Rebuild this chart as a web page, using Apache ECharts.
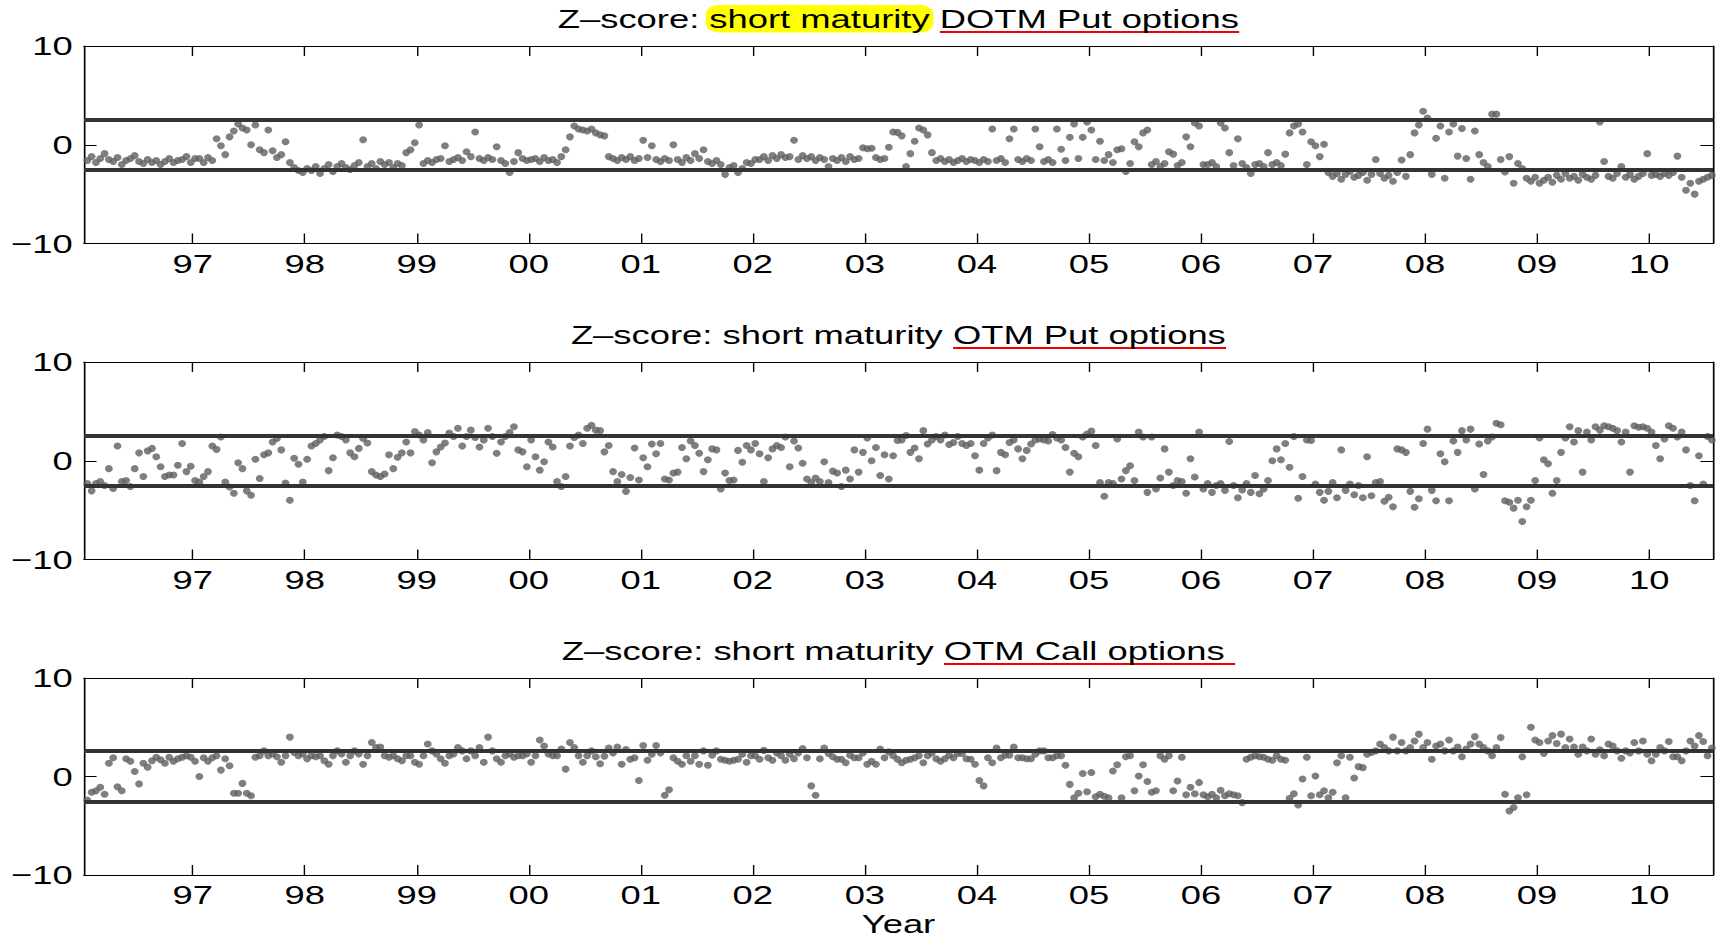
<!DOCTYPE html>
<html lang="en">
<head>
<meta charset="UTF-8">
<title>Z-score: short maturity options</title>
<script src="https://cdn.jsdelivr.net/npm/echarts@6/dist/echarts.min.js"></script>
<style>
  * { margin: 0; padding: 0; }
  body { background: #fff; width: 1720px; height: 938px; overflow: hidden; }
  /* the source figure is stretched sideways, so draw it narrow and widen it */
  #chart { width: 1229px; height: 938px; transform: scaleX(1.3995); transform-origin: 0 0; }
</style>
</head>
<body>
<div id="chart"></div>
<script>
  // biweekly observations, first one at year + 0.06
  const firstYear = 1996;
  const obsOffset = 0.06;
  const obsPerYear = 26;
  const zCrit = 2.58;
  const tickYears = [1997, 1998, 1999, 2000, 2001, 2002, 2003, 2004, 2005, 2006, 2007, 2008, 2009, 2010];

  // one row per year (1996 ... 2010)
  const dotmPut = [
    [-1.6,-1.2,-1.8,-1.4,-0.9,-1.5,-1.7,-1.3,-2.0,-1.6,-1.4,-1.1,-1.7,-1.9,-1.5,-1.8,-1.6,-2.0,-1.7,-1.4,-1.8,-1.6,-1.5,-1.2,-1.8,-1.4],
    [-1.4,-1.8,-1.3,-1.6,0.6,-0.1,-1.0,0.8,1.4,2.1,1.7,1.5,0.0,2.0,-0.5,-0.8,1.5,-0.6,-1.3,-1.0,0.3,-1.8,-2.3,-2.6,-2.8,-2.4],
    [-2.6,-2.2,-2.9,-2.4,-2.0,-2.7,-2.2,-1.9,-2.3,-2.5,-2.1,-1.8,0.5,-2.2,-1.9,-2.4,-1.7,-2.0,-1.8,-2.3,-1.9,-2.1,-0.8,-0.5,0.2,2.0],
    [-1.9,-1.6,-1.8,-1.5,-1.4,-0.1,-1.7,-1.5,-1.3,-1.6,-0.7,-1.2,1.3,-1.4,-1.6,-1.3,-1.5,-0.2,-1.6,-1.9,-2.8,-1.7,-0.8,-1.4,-1.6,-1.5],
    [-1.4,-1.7,-1.3,-1.6,-1.5,-1.8,-1.2,-0.5,0.8,1.9,1.6,1.5,1.4,1.6,1.2,1.0,0.9,-1.2,-1.4,-1.6,-1.3,-1.5,-1.2,-1.6,-1.4,0.45],
    [-1.3,-0.1,-1.5,-1.7,-1.4,-1.6,0.0,-1.5,-1.8,-1.3,-1.6,-0.9,-1.4,-0.5,-1.7,-1.9,-1.6,-2.0,-3.0,-2.3,-2.1,-2.8,-2.4,-1.8,-1.9,-1.5],
    [-1.5,-1.2,-1.6,-1.1,-1.4,-1.0,-1.3,-1.2,0.45,-1.5,-1.1,-1.4,-1.2,-1.6,-1.3,-1.5,-2.2,-1.4,-1.6,-1.3,-1.7,-1.2,-1.5,-1.4,-0.3,-0.4],
    [-0.35,-1.3,-1.5,-1.4,-0.25,1.3,1.25,0.9,-2.2,-0.9,0.35,1.7,1.5,1.0,-0.8,-1.6,-1.4,-1.7,-1.5,-1.8,-1.6,-1.4,-1.7,-1.5,-1.6,-1.8],
    [-1.5,-1.7,1.6,-1.6,-1.4,-1.8,0.6,1.6,-1.5,-1.7,-1.4,-1.6,1.6,-0.2,-1.7,-1.5,-1.8,1.6,-0.45,-1.6,0.75,2.1,-1.4,0.75,2.3,1.5],
    [-1.5,0.35,-1.6,-1.0,-1.8,-0.5,-0.4,-2.7,-1.9,0.3,-0.2,1.2,1.5,-2.0,-1.7,-2.2,-1.9,-0.7,-0.95,-2.1,-1.8,0.8,-0.2,2.2,1.9,-2.0],
    [-2.0,-1.8,-2.2,2.2,1.7,-0.8,-2.1,0.6,-1.9,-2.3,-2.9,-2.0,-1.9,-2.2,-0.8,-2.0,-1.8,-2.1,-0.95,1.2,1.9,2.1,1.3,-2.0,0.3,-0.1],
    [-1.2,0.05,-2.8,-3.2,-2.9,-3.5,-3.0,-2.7,-3.3,-3.1,-2.8,-3.6,-3.0,-1.5,-2.9,-3.4,-3.1,-3.7,-2.8,-1.55,-3.2,-1.0,1.2,2.0,3.4,2.7],
    [-3.0,0.65,1.9,-3.4,1.3,2.1,-1.15,1.65,-1.4,-3.5,1.4,-1.0,-1.8,-2.2,3.1,3.1,-1.5,-2.75,-1.2,-3.9,-1.9,-2.4,-3.4,-3.7,-3.3,-3.9],
    [-3.6,-3.3,-3.8,-3.1,-3.5,-2.9,-3.4,-3.2,-3.6,-3.0,-3.3,-3.5,-3.1,2.3,-1.7,-3.2,-3.4,-2.9,-2.2,-3.3,-3.0,-3.5,-3.2,-2.9,-0.9,-3.1],
    [-3.0,-3.2,-2.9,-3.1,-2.8,-1.15,-3.3,-4.6,-3.9,-5.0,-3.7,-3.5,-3.3,-3.1]
  ];

  const otmPut = [
    [-2.3,-3.05,-2.3,-2.1,-2.5,-0.8,-2.8,1.5,-2.1,-2.0,-2.6,-0.8,0.8,-1.6,1.0,1.25,0.4,-0.6,-1.6,-1.45,-1.45,-0.45,1.75,-1.1,-0.55,-2.0],
    [-2.15,-1.6,-1.1,1.5,1.15,2.4,-2.15,-2.65,-3.3,-0.2,-0.8,-3.05,-3.5,0.15,-1.8,0.6,0.8,1.9,2.25,1.1,-2.25,-4.0,0.25,-0.35,-2.15,0.15],
    [1.5,1.75,2.1,2.45,-1.0,0.3,2.6,2.45,2.1,0.8,0.4,1.25,2.25,1.8,-1.1,-1.45,-1.6,-1.35,0.6,-0.8,0.35,0.8,1.9,0.8,2.95,2.6],
    [2.1,2.85,-0.2,0.9,1.4,1.8,2.8,2.45,3.3,1.5,2.45,3.1,2.35,1.4,2.1,3.3,2.45,0.75,1.9,2.45,2.85,3.45,1.1,0.9,-0.6,2.1],
    [0.4,-0.95,-0.1,1.9,1.4,-2.1,-2.6,-1.6,1.5,2.35,2.6,1.75,3.3,3.6,3.1,3.05,0.9,1.55,-1.1,-2.1,-1.4,-3.1,-1.7,1.3,-1.95,0.3],
    [-0.6,1.7,0.7,1.75,-1.85,-1.95,-1.25,-1.15,1.35,0.2,2.0,1.55,0.75,-1.1,0.1,1.2,1.1,-2.85,-1.25,-2.0,-1.95,1.05,-0.15,1.55,1.1,1.75],
    [0.7,-2.1,0.3,1.2,1.55,1.35,2.4,-0.6,2.0,1.3,-0.25,-1.85,-2.2,-1.75,-2.1,-0.1,-2.2,-1.05,-1.25,-2.6,-0.95,-1.85,1.1,-1.15,0.85,2.3],
    [0.0,1.35,-1.5,0.6,-1.85,0.5,2.05,2.1,2.55,0.85,1.3,0.2,3.05,1.7,2.1,2.45,2.1,2.6,1.65,1.85,2.45,1.75,1.55,1.75,0.5,-0.95],
    [1.75,2.3,2.6,-1.0,0.85,0.6,1.85,2.1,1.2,0.2,1.05,1.7,2.1,2.2,2.1,2.0,2.65,2.3,2.1,1.35,-1.15,0.75,0.4,2.4,2.7,3.0],
    [1.55,-2.2,-3.6,-2.2,-2.3,2.2,-1.85,-1.0,-0.5,-2.0,2.9,2.4,-3.2,2.4,-2.85,-1.75,1.2,-1.15,-2.5,-2.0,-2.1,-3.3,0.2,-1.65,2.9,-2.85],
    [-2.3,-3.2,-2.5,-2.3,-3.0,1.95,-2.5,-3.75,-2.95,-2.3,-3.2,-1.5,-3.35,-2.85,-2.0,0.0,1.2,0.1,1.75,-0.65,2.45,-3.8,-1.6,2.1,2.05,-2.35],
    [-3.2,-4.0,-3.1,-2.2,-3.75,1.1,-3.0,-2.35,-3.45,-2.5,-3.75,0.4,-3.55,-2.2,-2.1,-4.1,-3.7,-4.65,1.2,1.1,0.85,-3.1,-4.7,-3.85,1.75,3.2],
    [-3.0,-4.05,0.7,-0.1,-4.05,2.0,0.85,3.05,2.1,3.2,-2.85,1.7,-1.4,2.0,2.4,3.8,3.65,-4.05,-4.2,-4.8,-4.0,-6.15,-4.65,-4.0,-2.0,2.3],
    [0.1,-0.3,-3.3,-2.0,0.85,2.3,3.45,1.9,3.05,-1.15,2.9,2.1,3.45,3.1,3.55,3.45,3.3,3.05,1.9,2.9,-1.15,3.55,3.4,3.45,3.3,2.9],
    [1.55,0.2,2.2,3.55,3.3,2.4,2.9,1.1,-2.5,-4.05,0.5,-2.35,2.45,2.1]
  ];

  const otmCall = [
    [-2.4,-1.6,-1.45,-1.1,-1.8,1.35,1.9,-1.05,-1.45,1.8,1.55,0.5,-0.75,1.35,0.95,1.6,1.95,1.7,1.35,1.95,1.55,1.8,1.95,2.1,1.95,1.55],
    [0.0,1.9,1.55,1.9,2.1,0.65,1.8,1.1,-1.7,-1.7,-0.7,-1.7,-1.95,1.95,2.1,2.6,2.1,2.3,2.0,1.45,2.1,4.0,2.45,2.1,2.3,1.8],
    [2.1,2.0,2.1,1.6,1.25,2.1,2.6,2.3,1.45,2.1,2.6,2.3,1.25,2.1,3.45,2.95,3.0,2.1,1.95,2.1,1.8,1.6,2.1,2.1,1.45,1.25],
    [2.1,3.3,2.6,2.3,1.8,1.35,2.1,2.3,2.95,2.6,1.8,2.6,2.1,2.95,1.45,4.0,2.6,1.8,1.45,2.1,2.3,1.95,2.1,2.1,2.3,1.45],
    [2.1,3.7,3.1,2.3,2.1,2.1,2.8,0.75,3.45,2.95,2.1,1.45,2.1,2.6,2.0,1.3,2.05,2.9,2.4,3.0,1.25,2.75,1.75,1.9,-0.4,3.15],
    [1.65,2.25,3.15,2.4,-1.9,-1.35,1.9,1.55,1.25,2.1,1.55,2.1,1.25,2.6,1.15,2.15,2.6,1.75,1.65,1.55,1.65,1.75,2.25,1.45,2.1,2.1],
    [1.75,2.65,1.9,1.65,2.4,2.1,1.65,2.25,1.8,2.4,2.85,1.9,-0.95,-1.9,1.8,2.9,2.35,2.0,1.75,1.75,1.4,2.15,1.9,1.9,2.4,1.25],
    [1.55,1.25,2.8,1.9,2.5,2.1,1.75,1.4,1.65,1.75,1.9,2.1,1.4,2.1,2.4,1.8,1.55,1.8,2.15,1.9,2.35,2.35,1.8,1.75,1.25,-0.4],
    [-0.95,1.9,1.4,2.9,1.9,2.15,2.15,3.0,1.9,1.9,1.8,1.8,2.25,2.6,2.6,1.9,1.9,2.1,2.1,1.15,-0.8,-2.15,-1.7,0.3,-1.55,0.4],
    [-2.05,-1.8,-2.0,-2.15,0.55,1.2,-2.15,2.0,2.1,-1.45,0.05,1.2,-0.5,-1.6,-1.45,2.1,1.75,2.1,-1.45,-0.45,1.95,-1.85,-1.1,-1.75,-0.6,-1.85],
    [-2.05,-1.8,-2.15,-1.4,-1.95,-1.75,-1.85,-1.95,-2.65,1.75,1.95,2.1,2.0,1.95,1.75,1.65,2.1,1.75,1.65,-2.2,-1.75,-2.9,-0.25,1.95,-1.95,0.05],
    [-1.85,-1.45,-2.15,-1.6,1.4,2.1,-2.15,1.95,-0.15,1.0,0.9,2.25,2.45,2.6,3.3,2.95,2.6,4.0,2.6,3.45,2.6,2.95,3.6,4.3,2.95,3.45],
    [1.75,3.1,3.3,2.6,3.7,2.6,3.0,2.0,2.8,3.3,4.05,3.3,2.95,2.6,2.1,2.95,3.95,-1.8,-3.5,-3.15,-2.15,2.0,-1.85,5.0,3.7,3.45],
    [2.35,3.6,4.15,3.35,4.3,2.95,3.8,3.0,2.25,3.0,2.6,3.8,2.25,2.7,2.1,3.3,3.1,2.6,1.85,2.6,2.4,3.45,2.6,3.6,2.25,1.6],
    [2.25,2.95,2.6,3.55,2.0,2.0,1.6,2.6,3.6,3.1,4.15,3.55,2.1,2.9]
  ];

  // title pieces: mark = yellow highlight, line = red underline
  const titles = [
    [{ t: 'Z\u2013score: ' }, { t: 'short maturity', mark: true }, { t: ' ' }, { t: 'DOTM Put options', line: true }],
    [{ t: 'Z\u2013score: short maturity ' }, { t: 'OTM Put options', line: true }],
    [{ t: 'Z\u2013score: short maturity ' }, { t: 'OTM Call options ', line: true }]
  ];

  const FONT = '"Liberation Sans", Arial, sans-serif';
  const gridLeft = 60, gridRight = 5;
  const gridTops = [46, 362, 678];
  const gridH = 197.5;
  const chartW = 1229;

  function toPoints(rows) {
    const pts = [];
    rows.forEach((row, k) => {
      row.forEach((v, j) => pts.push([firstYear + k + obsOffset + j / obsPerYear, v]));
    });
    return pts;
  }

  var ctx = document.createElement('canvas').getContext('2d');
  ctx.font = '26px ' + FONT;
  function textW(s) { return ctx.measureText(s).width; }

  var grids = [], xAxes = [], yAxes = [], series = [], graphics = [];
  var panelData = [dotmPut, otmPut, otmCall];
  var cx = gridLeft + (chartW - gridLeft - gridRight) / 2;

  panelData.forEach((rows, k) => {
    grids.push({ left: gridLeft, right: gridRight, top: gridTops[k], height: gridH });

    var frame = { show: true, onZero: false, lineStyle: { color: '#000', width: 1.2 } };
    // bottom axis with labels
    xAxes.push({
      type: 'value', gridIndex: k, min: 1996.03, max: 2010.57,
      axisLine: frame,
      axisTick: { inside: true, length: 10, customValues: tickYears, lineStyle: { color: '#000', width: 1 } },
      axisLabel: {
        customValues: tickYears, margin: 7,
        formatter: v => String(v).slice(2),
        fontSize: 26, fontFamily: FONT, color: '#000'
      },
      splitLine: { show: false },
      name: k === 2 ? 'Year' : '',
      nameLocation: 'middle', nameGap: 36,
      nameTextStyle: { fontSize: 26, fontFamily: FONT, color: '#000' }
    });
    // top axis, ticks only
    xAxes.push({
      type: 'value', gridIndex: k, position: 'top', min: 1996.03, max: 2010.57,
      axisLine: frame,
      axisTick: { inside: true, length: 10, customValues: tickYears, lineStyle: { color: '#000', width: 1 } },
      axisLabel: { show: false },
      splitLine: { show: false }
    });
    yAxes.push({
      type: 'value', gridIndex: k, min: -10, max: 10, interval: 10,
      axisLine: frame,
      axisTick: { inside: true, length: 9, lineStyle: { color: '#000', width: 1 } },
      axisLabel: {
        margin: 8, fontSize: 26, fontFamily: FONT, color: '#000',
        formatter: v => (v < 0 ? '\u2212' + (-v) : String(v))
      },
      splitLine: { show: false }
    });
    yAxes.push({
      type: 'value', gridIndex: k, position: 'right', min: -10, max: 10, interval: 10,
      axisLine: frame,
      axisTick: { inside: true, length: 9, lineStyle: { color: '#000', width: 1 } },
      axisLabel: { show: false },
      splitLine: { show: false }
    });

    series.push({
      type: 'scatter',
      xAxisIndex: 2 * k, yAxisIndex: 2 * k,
      data: toPoints(rows),
      symbol: 'circle',
      symbolSize: [5.6, 7],
      itemStyle: { color: '#5f5f5f' },
      silent: true,
      markLine: {
        silent: true, symbol: 'none', animation: false,
        label: { show: false },
        lineStyle: { color: '#333', width: 4, type: 'solid' },
        data: [{ yAxis: zCrit }, { yAxis: -zCrit }]
      }
    });

    // title with highlight and underline
    var parts = titles[k];
    var full = parts.map(p => p.t).join('');
    var ty = gridTops[k] - 27.5;
    var x0 = cx - textW(full) / 2;
    var pos = x0;
    parts.forEach(p => {
      var w = textW(p.t);
      if (p.mark) {
        graphics.push({
          type: 'rect', z: 1,
          shape: { x: pos - 2.5, y: ty - 13.5, width: w + 5, height: 27.5, r: 9 },
          style: { fill: '#ffff00' }
        });
      }
      if (p.line) {
        graphics.push({
          type: 'line', z: 1,
          shape: { x1: pos, y1: ty + 13.5, x2: pos + w, y2: ty + 13.5 },
          style: { stroke: '#f00000', lineWidth: 2.2 }
        });
      }
      pos += w;
    });
    graphics.push({
      type: 'text', z: 2, x: x0, y: ty,
      style: {
        text: full, font: '26px ' + FONT, fill: '#000',
        align: 'left', textAlign: 'left', verticalAlign: 'middle', textVerticalAlign: 'middle'
      }
    });
  });

  var myChart = echarts.init(document.getElementById('chart'), null, { renderer: 'svg' });
  var option = {
    animation: false,
    backgroundColor: '#fff',
    grid: grids,
    xAxis: xAxes,
    yAxis: yAxes,
    series: series,
    graphic: graphics
  };
  myChart.setOption(option);
</script>
</body>
</html>
